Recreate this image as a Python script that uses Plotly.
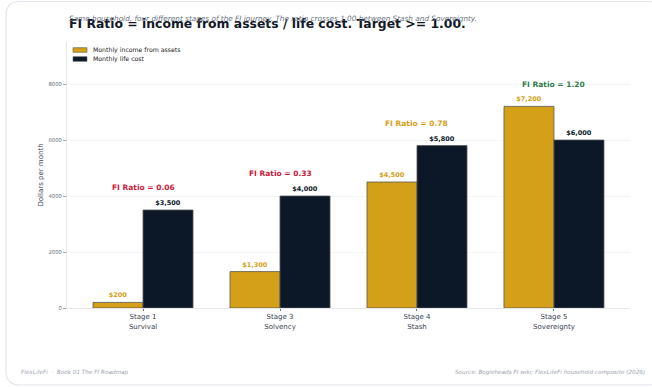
import plotly.graph_objects as go

# Household FI journey data
stages = ["Stage 1<br>Survival", "Stage 3<br>Solvency", "Stage 4<br>Stash", "Stage 5<br>Sovereignty"]
income_from_assets = [200, 1300, 4500, 7200]
life_cost = [3500, 4000, 5800, 6000]
series_names = ["Monthly income from assets", "Monthly life cost"]

GOLD = "#D4A017"
NAVY = "#0C1728"
RED = "#C8193C"
GREEN = "#2E7D4A"
EDGE = "#555555"
FONT = "DejaVu Sans"

W, H = 652, 387
ML, MR, MT, MB = 67, 22, 42, 79
PW, PH = W - ML - MR, H - MT - MB


def px_to_paper(x, y):
    return (x - ML) / PW, (H - MB - y) / PH


fig = go.Figure()
for name, vals, color in [(series_names[0], income_from_assets, GOLD),
                          (series_names[1], life_cost, NAVY)]:
    fig.add_trace(go.Bar(
        x=stages, y=vals, name=name, showlegend=False,
        marker=dict(color=color, line=dict(color=EDGE, width=0.8)),
        text=[f"${v:,}" for v in vals], textposition="outside",
        textfont=dict(family=FONT, size=6.5, color=color, weight="bold"),
        cliponaxis=False,
    ))

annotations = []
shapes = []
for s, inc, cost in zip(stages, income_from_assets, life_cost):
    ratio = inc / cost
    color = GREEN if ratio >= 1 else (GOLD if ratio >= 0.5 else RED)
    annotations.append(dict(
        x=s, y=max(inc, cost) + 800, xref="x", yref="y",
        text=f"<b>FI Ratio = {ratio:.2f}</b>", showarrow=False,
        font=dict(family=FONT, size=7.5, color=color),
    ))

# Compact legend: small swatches with labels
for i, (name, color) in enumerate(zip(series_names, [GOLD, NAVY])):
    cy = 50 + 9 * i
    x0, y0 = px_to_paper(73, cy - 2.3)
    x1, y1 = px_to_paper(87, cy + 2.3)
    shapes.append(dict(type="rect", xref="paper", yref="paper",
                       x0=x0, y0=y0, x1=x1, y1=y1,
                       fillcolor=color, line=dict(color=EDGE, width=0.6)))
    tx, ty = px_to_paper(91, cy)
    annotations.append(dict(
        x=tx, y=ty, xref="paper", yref="paper", xanchor="left", yanchor="middle",
        text=name, showarrow=False, font=dict(family=FONT, size=6.2, color="#222222"),
    ))

# Title and subtitle
tx, ty = px_to_paper(67, 24)
annotations.append(dict(
    x=tx, y=ty, xref="paper", yref="paper", xanchor="left", yanchor="middle",
    text="<b>FI Ratio = income from assets / life cost. Target >= 1.00.</b>",
    showarrow=False, font=dict(family=FONT, size=12.4, color="#111827"),
))
sx, sy = px_to_paper(67, 19)
annotations.append(dict(
    x=sx, y=sy, xref="paper", yref="paper", xanchor="left", yanchor="middle",
    text="<i>Same household, four different stages of the FI journey. The ratio crosses 1.00 between Stash and Sovereignty.</i>",
    showarrow=False, font=dict(family=FONT, size=7.3, color="#6B7280"),
))

# Footer
fx, fy = px_to_paper(19, 372)
annotations.append(dict(
    x=fx, y=fy, xref="paper", yref="paper", xanchor="left", yanchor="middle",
    text="<i>FlexLifeFi  ·  Book 01 The FI Roadmap</i>",
    showarrow=False, font=dict(family=FONT, size=5.7, color="#9CA3AF"),
))
rx, ry = px_to_paper(647, 372)
annotations.append(dict(
    x=rx, y=ry, xref="paper", yref="paper", xanchor="right", yanchor="middle",
    text="<i>Source: Bogleheads FI wiki; FlexLifeFi household composite (2026)</i>",
    showarrow=False, font=dict(family=FONT, size=5.7, color="#9CA3AF"),
))


# Rounded card outline
def rounded_rect(x0, y0, x1, y1, r):
    def p(x, y):
        a, b = px_to_paper(x, y)
        return f"{a:.5f},{b:.5f}"
    path = f"M {p(x0 + r, y0)} L {p(x1 - r, y0)} Q {p(x1, y0)} {p(x1, y0 + r)} "
    path += f"L {p(x1, y1 - r)} Q {p(x1, y1)} {p(x1 - r, y1)} "
    path += f"L {p(x0 + r, y1)} Q {p(x0, y1)} {p(x0, y1 - r)} "
    path += f"L {p(x0, y0 + r)} Q {p(x0, y0)} {p(x0 + r, y0)} Z"
    return path


shapes.append(dict(type="path", xref="paper", yref="paper",
                   path=rounded_rect(6, 1.5, 662, 385, 14),
                   line=dict(color="#E3E6EE", width=1.2), layer="below"))

fig.update_layout(
    width=W, height=H,
    margin=dict(l=ML, r=MR, t=MT, b=MB),
    paper_bgcolor="white", plot_bgcolor="white",
    barmode="group", bargap=0.27, bargroupgap=0,
    font=dict(family=FONT, size=7, color="#374151"),
    showlegend=False,
    annotations=annotations, shapes=shapes,
    xaxis=dict(range=[-0.555, 3.555], showline=True, linecolor="#E5E7EB", linewidth=1,
               ticks="outside", ticklen=2, tickcolor="#6B7280",
               tickfont=dict(family=FONT, size=7, color="#374151"), showgrid=False),
    yaxis=dict(range=[0, 9500], tickvals=[0, 2000, 4000, 6000, 8000],
               ticktext=["0", "2000", "4000", "6000", "8000"],
               showline=True, linecolor="#E5E7EB", linewidth=1,
               ticks="outside", ticklen=3, tickcolor="#9CA3AF",
               tickfont=dict(family=FONT, size=5.3, color="#6B7280"),
               showgrid=True, gridcolor="#F3F4F7", gridwidth=1, zeroline=False,
               title=dict(text="Dollars per month", font=dict(family=FONT, size=7, color="#374151"),
                          standoff=4)),
)

fig.write_html("out.html")
